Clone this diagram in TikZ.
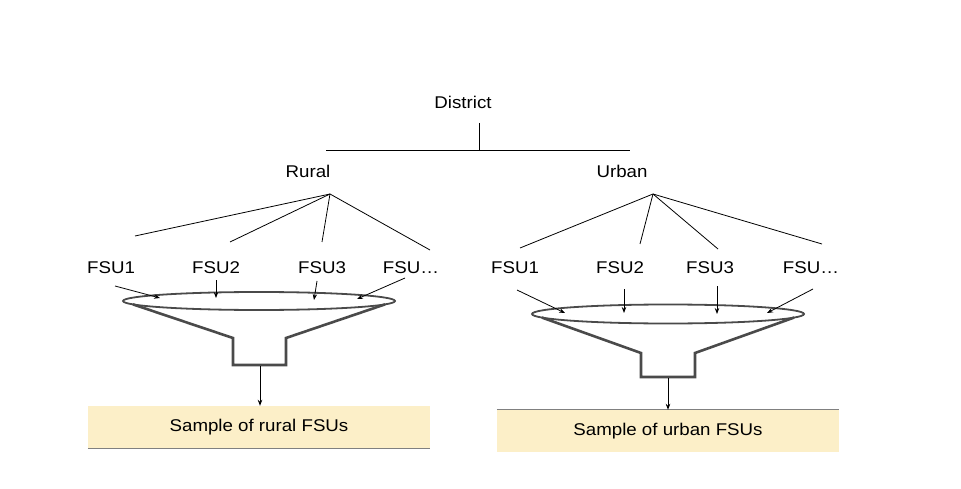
\documentclass[tikz,border=0pt]{standalone}
\usepackage{fontspec}
\setmainfont[FakeStretch=1.1]{Liberation Sans}
\usetikzlibrary{arrows.meta}
\definecolor{boxfill}{HTML}{FCEFC8}
\definecolor{funnelc}{HTML}{4A4A4A}
\begin{document}
\begin{tikzpicture}[x=1pt,y=-1pt,
  lbl/.style={font=\fontsize{17}{20}\selectfont, inner sep=1pt},
  tree/.style={draw=black, line width=0.8pt},
  feed/.style={draw=black, line width=0.8pt, -{Stealth[length=6pt,width=4.5pt]}},
  rim/.style={draw=funnelc, line width=1.8pt},
  cone/.style={draw=funnelc, line width=2.6pt, line join=miter},
  samplebox/.style={fill=boxfill, minimum width=342pt, minimum height=42pt, inner sep=0pt, font=\fontsize{17}{20}\selectfont}
]
\useasboundingbox (0,0) rectangle (961,489);

% top level
\node[lbl] (district) at (463,102) {District};
\coordinate (dtop) at (479,123);
\coordinate (dmid) at (479,150);
\coordinate (hl) at (326,150);
\coordinate (hr) at (630,150);
\draw[tree] (dtop) -- (dmid);
\draw[tree] (hl) -- (hr);
\node[lbl] (rural) at (308,171) {Rural};
\node[lbl] (urban) at (622,171) {Urban};

% rural branches
\coordinate (rapex) at (330,194);
\coordinate (rb1) at (135,236);
\coordinate (rb2) at (230,242);
\coordinate (rb3) at (322,242);
\coordinate (rb4) at (430,250);
\foreach \b in {rb1,rb2,rb3,rb4} \draw[tree] (rapex) -- (\b);

% urban branches
\coordinate (uapex) at (653,194);
\coordinate (ub1) at (520,248);
\coordinate (ub2) at (640,244);
\coordinate (ub3) at (718,249);
\coordinate (ub4) at (822,244);
\foreach \b in {ub1,ub2,ub3,ub4} \draw[tree] (uapex) -- (\b);

% FSU labels
\node[lbl] (r1) at (111,268) {FSU1};
\node[lbl] (r2) at (216,268) {FSU2};
\node[lbl] (r3) at (322,268) {FSU3};
\node[lbl] (r4) at (411,268) {FSU\ldots};
\node[lbl] (u1) at (515,268) {FSU1};
\node[lbl] (u2) at (620,268) {FSU2};
\node[lbl] (u3) at (710,268) {FSU3};
\node[lbl] (u4) at (811,268) {FSU\ldots};

% rural funnel
\coordinate (rc) at (259,301);
\draw[cone] ([shift={(158:136 and 9)}]rc) -- (233,338) -- (233,365) -- (286,365) -- (286,338) -- ([shift={(22:136 and 9)}]rc);
\draw[rim] (rc) ellipse [x radius=136, y radius=9];
\coordinate (rout) at (260,366);

% urban funnel
\coordinate (uc) at (668,314);
\draw[cone] ([shift={(158:136 and 9.5)}]uc) -- (641,353) -- (641,377) -- (695,377) -- (695,353) -- ([shift={(22:136 and 9.5)}]uc);
\draw[rim] (uc) ellipse [x radius=136, y radius=9.5];
\coordinate (uout) at (668,378);

% arrows into funnels
\coordinate (rt1) at (160,298);
\coordinate (rt2) at (216,298);
\coordinate (rt3) at (314,300);
\coordinate (rt4) at (357,299);
\draw[feed] (115,286) -- (rt1);
\draw[feed] (216,280) -- (rt2);
\draw[feed] (317,281) -- (rt3);
\draw[feed] (405,278) -- (rt4);
\coordinate (ut1) at (565,313);
\coordinate (ut2) at (624,313);
\coordinate (ut3) at (717,314);
\coordinate (ut4) at (767,313);
\draw[feed] (517,290) -- (ut1);
\draw[feed] (624,289) -- (ut2);
\draw[feed] (717,286) -- (ut3);
\draw[feed] (813,289) -- (ut4);

% sample boxes
\node[samplebox] (rbox) at (259,427) {Sample of rural FSUs};
\draw[draw=gray, line width=0.8pt] (rbox.south west) -- (rbox.south east);
\node[samplebox] (ubox) at (668,431) {Sample of urban FSUs};
\draw[draw=gray, line width=0.8pt] (ubox.north west) -- (ubox.north east);

\draw[feed] (rout) -- (rbox.north -| rout);
\draw[feed] (uout) -- (ubox.north -| uout);
\end{tikzpicture}
\end{document}
